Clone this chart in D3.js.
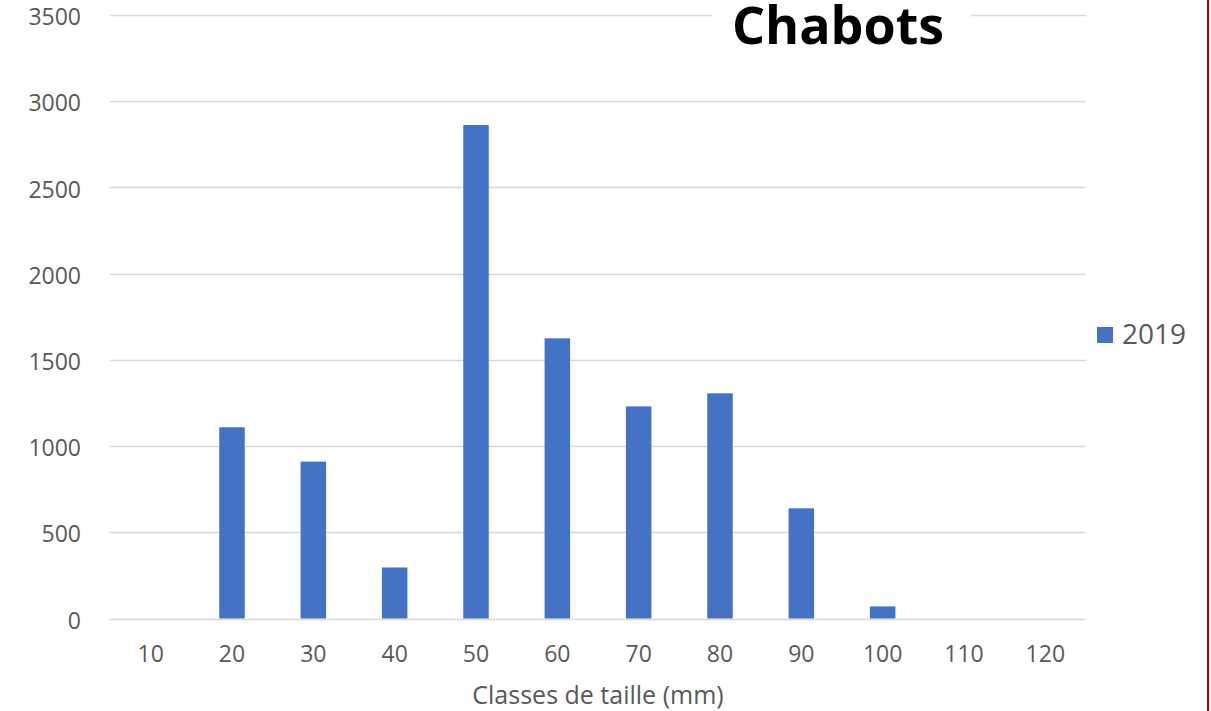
<!DOCTYPE html>
<html>
<head>
<meta charset="utf-8">
<script src="https://cdn.jsdelivr.net/npm/d3@7"></script>
<style>
  body { margin: 0; background: #fff; }
  text { font-family: "Open Sans", sans-serif; }
</style>
</head>
<body>
<div class="chart"></div>
<script>
// size classes (mm) and counts for 2019
var classes = ["10", "20", "30", "40", "50", "60", "70", "80", "90", "100", "110", "120"];
var counts2019 = [0, 1109, 910, 296, 2862, 1625, 1230, 1306, 639, 70, 0, 0];
var yTicks = [0, 500, 1000, 1500, 2000, 2500, 3000, 3500];

var svgWidth = 1211;
var svgHeight = 711;

var margin = { top: 15, right: 125, bottom: 92.5, left: 110 };
var width = svgWidth - margin.left - margin.right;   // 976
var height = svgHeight - margin.top - margin.bottom;

var svg = d3.select(".chart")
  .append("svg")
  .attr("width", svgWidth)
  .attr("height", svgHeight);

var chartGroup = svg.append("g")
  .attr("transform", `translate(${margin.left}, ${margin.top})`);

var x = d3.scaleBand()
  .domain(classes)
  .range([0, width]);

var y = d3.scaleLinear()
  .domain([0, 3500])
  .range([height, 0]);

// gridlines
chartGroup.selectAll(".grid")
  .data(yTicks)
  .enter()
  .append("line")
  .attr("x1", 0)
  .attr("x2", width)
  .attr("y1", d => Math.round(y(d)) + 0.5)
  .attr("y2", d => Math.round(y(d)) + 0.5)
  .attr("stroke", "#d9d9d9")
  .attr("stroke-width", 1.5);

// y axis labels
var leftAxis = d3.axisLeft(y).tickValues(yTicks).tickSize(0).tickPadding(29)
  .tickFormat(d3.format("d"));
var yAxis = chartGroup.append("g").call(leftAxis);
yAxis.select(".domain").remove();
yAxis.selectAll("text")
  .attr("dy", "0.42em")
  .attr("fill", "#595959")
  .style("font-family", "Open Sans")
  .style("font-size", "23px");

// x axis labels
var bottomAxis = d3.axisBottom(x).tickSize(0).tickPadding(27);
var xAxis = chartGroup.append("g")
  .attr("transform", `translate(0, ${height})`)
  .call(bottomAxis);
xAxis.select(".domain").remove();
xAxis.selectAll("text")
  .attr("fill", "#595959")
  .style("font-family", "Open Sans")
  .style("font-size", "23px");

// bars
var barW = 25.5;
chartGroup.selectAll(".bar")
  .data(counts2019.map((v, i) => ({ c: classes[i], v: v })))
  .enter()
  .append("rect")
  .attr("x", d => x(d.c) + x.bandwidth() / 2 - barW / 2)
  .attr("y", d => y(d.v))
  .attr("width", barW)
  .attr("height", d => height - y(d.v))
  .attr("fill", "#4472c4");

// axis title
chartGroup.append("text")
  .attr("x", width / 2)
  .attr("y", height + 85)
  .attr("text-anchor", "middle")
  .attr("fill", "#595959")
  .style("font-size", "25px")
  .text("Classes de taille (mm)");

// chart title with white box over gridline
svg.append("rect")
  .attr("x", 712)
  .attr("y", 0)
  .attr("width", 259)
  .attr("height", 50)
  .attr("fill", "#fff");
svg.append("text")
  .attr("x", 838)
  .attr("y", 44)
  .attr("text-anchor", "middle")
  .attr("fill", "#000")
  .style("font-size", "52px")
  .style("font-weight", "bold")
  .text("Chabots");

// legend
svg.append("rect")
  .attr("x", 1097)
  .attr("y", 327)
  .attr("width", 16)
  .attr("height", 16)
  .attr("fill", "#4472c4");
svg.append("text")
  .attr("x", 1122)
  .attr("y", 344)
  .attr("fill", "#595959")
  .style("font-size", "28px")
  .text("2019");

// red border on the right
svg.append("line")
  .attr("x1", 1208)
  .attr("x2", 1208)
  .attr("y1", 0)
  .attr("y2", svgHeight)
  .attr("stroke", "#c00000")
  .attr("stroke-width", 2);
</script>
</body>
</html>
